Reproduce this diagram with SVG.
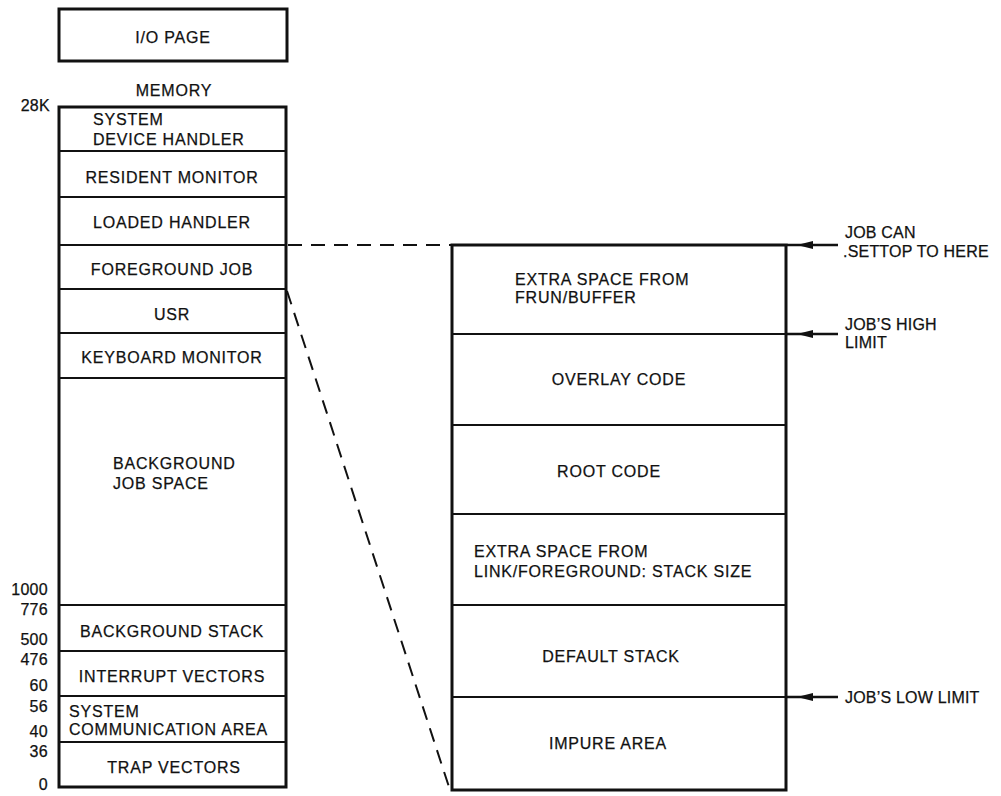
<svg xmlns="http://www.w3.org/2000/svg" width="1001" height="796" viewBox="0 0 1001 796">
<style>
  text { font-family: "Liberation Sans", Arial, sans-serif; font-size: 16px; fill: #111; stroke: #111; stroke-width: 0.25; letter-spacing: 0.8px; }
  .c { text-anchor: middle; }
  .r { text-anchor: end; letter-spacing: 0.3px; }
  .a { letter-spacing: 0.2px; }
  .box { fill: #fff; stroke: #111; stroke-width: 3; }
  .div { stroke: #111; stroke-width: 2; fill: none; }
  .dash { stroke: #111; stroke-width: 2; fill: none; stroke-dasharray: 14 9; }
  .arr { stroke: #111; stroke-width: 2.5; fill: none; marker-end: url(#ah); }
</style>
<defs>
  <marker id="ah" markerUnits="userSpaceOnUse" markerWidth="16" markerHeight="8" viewBox="0 0 16 8" refX="26" refY="4" orient="auto" overflow="visible">
    <path d="M0,0 L16,4 L0,8 z" fill="#111"/>
  </marker>
</defs>

<g id="io-page">
  <rect class="box" x="59" y="9" width="228" height="52"/>
  <text class="c" x="173" y="43">I/O PAGE</text>
</g>

<g id="memory-title">
  <text class="c" x="174" y="96">MEMORY</text>
  <text class="r" x="50" y="111">28K</text>
</g>

<g id="memory-column">
  <rect class="box" x="59" y="107" width="227" height="680"/>
  <line class="div" x1="59" y1="151" x2="286" y2="151"/>
  <line class="div" x1="59" y1="197" x2="286" y2="197"/>
  <line class="div" x1="59" y1="245" x2="286" y2="245"/>
  <line class="div" x1="59" y1="289" x2="286" y2="289"/>
  <line class="div" x1="59" y1="333" x2="286" y2="333"/>
  <line class="div" x1="59" y1="378" x2="286" y2="378"/>
  <line class="div" x1="59" y1="605" x2="286" y2="605"/>
  <line class="div" x1="59" y1="651" x2="286" y2="651"/>
  <line class="div" x1="59" y1="696" x2="286" y2="696"/>
  <line class="div" x1="59" y1="742" x2="286" y2="742"/>
</g>

<g id="mem-system-device-handler">
  <text x="93" y="125">SYSTEM</text>
  <text x="93" y="145">DEVICE HANDLER</text>
</g>
<g id="mem-resident-monitor"><text class="c" x="172" y="183">RESIDENT MONITOR</text></g>
<g id="mem-loaded-handler"><text class="c" x="172" y="228">LOADED HANDLER</text></g>
<g id="mem-foreground-job"><text class="c" x="172" y="275">FOREGROUND JOB</text></g>
<g id="mem-usr"><text class="c" x="172" y="320">USR</text></g>
<g id="mem-keyboard-monitor"><text class="c" x="172" y="363">KEYBOARD MONITOR</text></g>
<g id="mem-background-job-space">
  <text x="113" y="469">BACKGROUND</text>
  <text x="113" y="489">JOB SPACE</text>
</g>
<g id="mem-background-stack"><text class="c" x="172" y="637">BACKGROUND STACK</text></g>
<g id="mem-interrupt-vectors"><text class="c" x="172" y="682">INTERRUPT VECTORS</text></g>
<g id="mem-system-communication-area">
  <text x="69" y="717">SYSTEM</text>
  <text x="69" y="735">COMMUNICATION AREA</text>
</g>
<g id="mem-trap-vectors"><text class="c" x="174" y="773">TRAP VECTORS</text></g>

<g id="addresses">
  <text class="r" x="48" y="595">1000</text>
  <text class="r" x="48" y="615">776</text>
  <text class="r" x="48" y="645">500</text>
  <text class="r" x="48" y="665">476</text>
  <text class="r" x="48" y="691">60</text>
  <text class="r" x="48" y="712">56</text>
  <text class="r" x="48" y="737">40</text>
  <text class="r" x="48" y="757">36</text>
  <text class="r" x="48" y="790">0</text>
</g>

<g id="job-column">
  <rect class="box" x="452" y="245" width="334" height="545"/>
  <line class="div" x1="452" y1="334" x2="786" y2="334"/>
  <line class="div" x1="452" y1="425" x2="786" y2="425"/>
  <line class="div" x1="452" y1="514" x2="786" y2="514"/>
  <line class="div" x1="452" y1="605" x2="786" y2="605"/>
  <line class="div" x1="452" y1="697" x2="786" y2="697"/>
</g>

<g id="job-extra-frun">
  <text x="515" y="285">EXTRA SPACE FROM</text>
  <text x="515" y="303">FRUN/BUFFER</text>
</g>
<g id="job-overlay-code"><text class="c" x="619" y="385">OVERLAY CODE</text></g>
<g id="job-root-code"><text class="c" x="609" y="477">ROOT CODE</text></g>
<g id="job-extra-link">
  <text x="474" y="557">EXTRA SPACE FROM</text>
  <text x="474" y="577">LINK/FOREGROUND: STACK SIZE</text>
</g>
<g id="job-default-stack"><text class="c" x="611" y="662">DEFAULT STACK</text></g>
<g id="job-impure-area"><text class="c" x="608" y="749">IMPURE AREA</text></g>

<g id="annotations">
  <text class="a" x="845" y="238">JOB CAN</text>
  <text class="a" x="843" y="257">.SETTOP TO HERE</text>
  <text class="a" x="845" y="330">JOB’S HIGH</text>
  <text class="a" x="845" y="348">LIMIT</text>
  <text class="a" x="845" y="703">JOB’S LOW LIMIT</text>
</g>

<g id="connectors">
  <line class="dash" x1="288" y1="245" x2="452" y2="245"/>
  <line class="dash" x1="287" y1="291" x2="449" y2="787"/>
  <line class="arr" x1="838" y1="245" x2="787" y2="245"/>
  <line class="arr" x1="838" y1="334" x2="787" y2="334"/>
  <line class="arr" x1="838" y1="697" x2="787" y2="697"/>
</g>
</svg>
